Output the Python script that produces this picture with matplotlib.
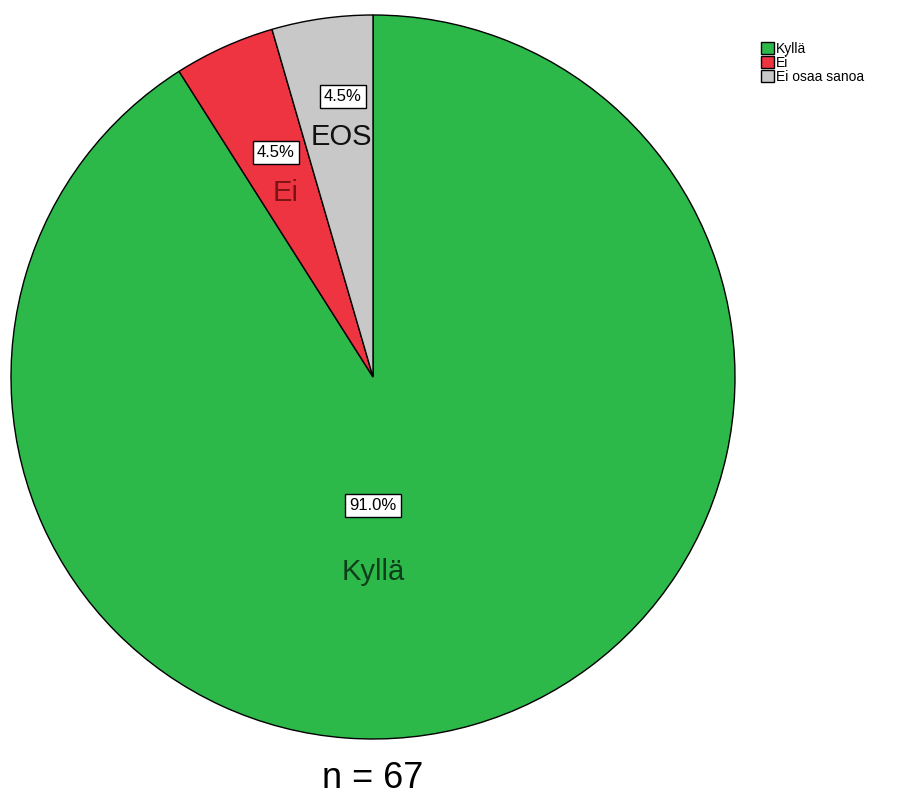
import numpy as np
import matplotlib
matplotlib.use('Agg')
import matplotlib.pyplot as plt

plt.rcParams['font.family'] = ['Liberation Sans', 'DejaVu Sans']

# data
categories = ['Kyllä', 'Ei', 'Ei osaa sanoa']
short_labels = ['Kyllä', 'Ei', 'EOS']
percents = [91.0, 4.5, 4.5]
n_total = 67

colors = ['#2db84a', '#ee3440', '#c8c8c8']
text_colors = ['#0f3f1a', '#7a1515', '#111111']
# radial position (fraction of radius) of name label and percent box
name_dist = [0.54, 0.562, 0.668]
pct_dist = [0.355, 0.675, 0.78]
# angular nudges (deg) from wedge middle so labels sit like the original
name_shift = [-16.2, 1.0, -0.5]
pct_shift = [-16.2, -0.9, -2.0]

W, H = 900, 798
fig = plt.figure(figsize=(W / 100, H / 100), dpi=100)
ax = fig.add_axes([0, 0, 1, 1])

cx, cy, R = 373, H - 377, 362
wedges, _ = ax.pie(percents, colors=colors, startangle=90, counterclock=False,
                   center=(cx, cy), radius=R, frame=True,
                   wedgeprops=dict(edgecolor='black', linewidth=1.0))
ax.set_xlim(0, W)
ax.set_ylim(0, H)
ax.axis('off')

for i, w in enumerate(wedges):
    mid = (w.theta1 + w.theta2) / 2
    a = np.deg2rad(mid + name_shift[i])
    ax.text(cx + name_dist[i] * R * np.cos(a), cy + name_dist[i] * R * np.sin(a),
            short_labels[i], ha='center', va='center', fontsize=21,
            color=text_colors[i])
    a = np.deg2rad(mid + pct_shift[i])
    ax.text(cx + pct_dist[i] * R * np.cos(a), cy + pct_dist[i] * R * np.sin(a),
            f'{percents[i]:.1f}%', ha='center', va='center', fontsize=12,
            bbox=dict(boxstyle='square,pad=0.25', facecolor='white',
                      edgecolor='black', linewidth=1.0))

ax.text(cx, H - 778, f'n = {n_total}', ha='center', va='center', fontsize=26)

ax.legend(wedges, categories, loc='upper left',
          bbox_to_anchor=(761 / W, 1 - 42 / H), frameon=False, fontsize=10,
          handlelength=0.9, handleheight=0.9, handletextpad=0.2,
          labelspacing=0.0, borderpad=0, borderaxespad=0)

plt.savefig('out.png', dpi=100)
